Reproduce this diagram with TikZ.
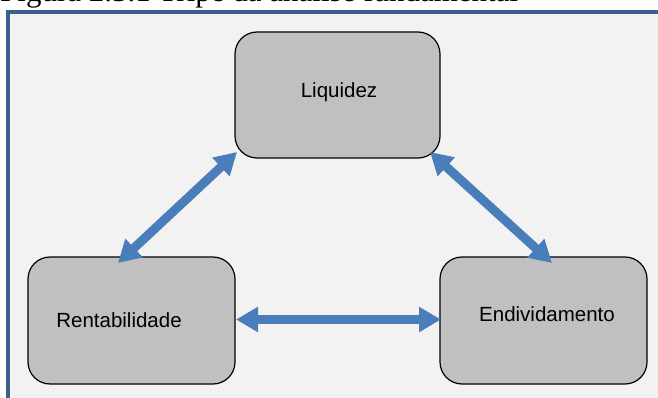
\documentclass[tikz,border=0pt]{standalone}
\usepackage{fontspec}
\setmainfont{Liberation Serif}
\newfontfamily\boxfont{Liberation Sans}
\usetikzlibrary{arrows.meta}
\definecolor{panelbg}{HTML}{F2F2F2}
\definecolor{frameblue}{HTML}{3C5F8C}
\definecolor{boxgray}{HTML}{C0C0C0}
\definecolor{arrowblue}{HTML}{4A7EBB}
\tikzset{
  boxnode/.style={draw=black, line width=1.2pt, fill=boxgray, rounded corners=22pt, inner sep=0pt},
  boxlabel/.style={font=\boxfont\fontsize{20.5}{24}\selectfont, text=black},
  dblarrow/.style={arrowblue, line width=9pt, {Triangle[width=24pt,length=22pt]}-{Triangle[width=24pt,length=22pt]}}
}
\begin{document}
\begin{tikzpicture}[x=1pt,y=-1pt]
\useasboundingbox (0,0) rectangle (658,398);
\begin{scope}
\clip (0,0) rectangle (658,398);
\node[anchor=base west, inner sep=0pt, font=\fontsize{31}{36}\selectfont] (caption) at (0,1.5) {Figura 2.3.1 Tripé da análise fundamental};
\fill[panelbg] (8,12) rectangle (662,402);
\draw[frameblue, line width=4pt] (8,402) -- (8,12) -- (662,12);
\end{scope}
% boxes
\node[boxnode, minimum width=205pt, minimum height=126pt] (liq) at (337.5,95) {};
\node[boxnode, minimum width=207pt, minimum height=127pt] (rent) at (131.5,320.5) {};
\node[boxnode, minimum width=207pt, minimum height=127pt] (endiv) at (543.5,320.5) {};
% labels
\node[boxlabel, anchor=base] (liqt) at (339,98) {Liquidez};
\node[boxlabel, anchor=base] (rentt) at (119,327) {Rentabilidade};
\node[boxlabel, anchor=base] (endivt) at (547,321) {Endividamento};
% arrow endpoints
\coordinate (a1) at (118,263);
\coordinate (a2) at (237,152);
\coordinate (b1) at (430,152);
\coordinate (b2) at (552,263);
\coordinate (c1) at (236,319.5);
\coordinate (c2) at (441,319.5);
\draw[dblarrow] (a1) -- (a2);
\draw[dblarrow] (b1) -- (b2);
\draw[dblarrow] (c1) -- (c2);
\end{tikzpicture}
\end{document}
